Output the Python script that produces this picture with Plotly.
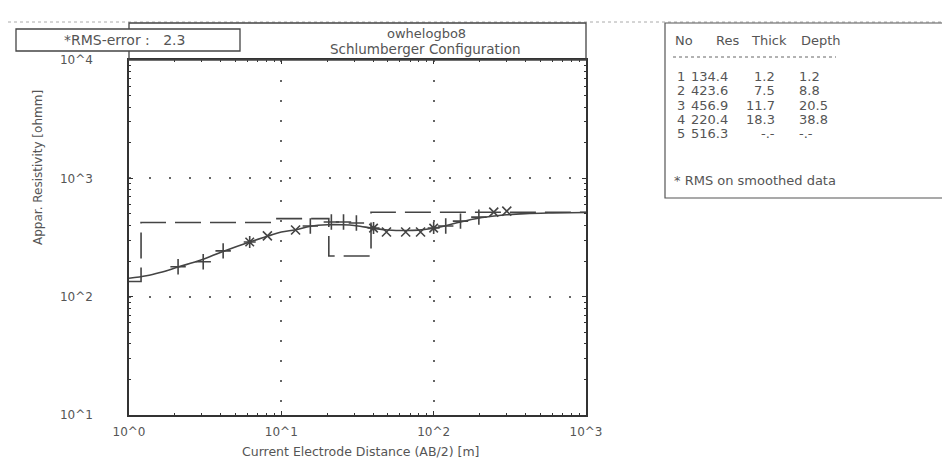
import plotly.graph_objects as go

# ---------------- data ----------------
# measured apparent resistivity (AB/2 [m], rho_a [ohm m]) by marker type
PLUS_X = [2.1, 3.07, 4.15, 15.5, 21.3, 25.6, 31.1, 120, 150, 198]
PLUS_Y = [179, 197, 244, 395, 427, 427, 419, 395, 435, 470]
CROSS_X = [8.1, 12.4, 49, 65.5, 82, 248, 302]
CROSS_Y = [326, 366, 352, 352, 352, 518, 528]
STAR_X = [6.2, 40.3, 100]
STAR_Y = [290, 380, 380]

# fitted (calculated) curve
CURVE_X = [1.0, 1.3, 1.6, 2.1, 3.0, 4.1, 6.2, 8.2, 10, 12.4, 15.5, 20, 25, 31, 40,
           50, 65, 80, 100, 120, 150, 200, 250, 300, 400, 600, 1000]
CURVE_Y = [143, 150, 160, 178, 205, 240, 290, 325, 352, 368, 393, 405, 405, 398, 378,
           366, 362, 365, 378, 398, 428, 462, 480, 492, 503, 510, 515]

# layer model (table)
LAYER_NO = [1, 2, 3, 4, 5]
LAYER_RES = [134.4, 423.6, 456.9, 220.4, 516.3]
LAYER_THICK = ["1.2", "7.5", "11.7", "18.3", "-.-"]
LAYER_DEPTH_TXT = ["1.2", "8.8", "20.5", "38.8", "-.-"]
LAYER_DEPTH = [1.2, 8.8, 20.5, 38.8]

X_TICKS = [1, 10, 100, 1000]
X_TICK_LABELS = ["10^0", "10^1", "10^2", "10^3"]
Y_TICKS = [10, 100, 1000, 10000]
Y_TICK_LABELS = ["10^1", "10^2", "10^3", "10^4"]

SITE = "owhelogbo8"
CONFIG = "Schlumberger Configuration"
RMS_ERROR = "2.3"

# --------------- build model step line from table ---------------
X_MIN, X_MAX = 1.0, 1000.0
mx, my = [], []
left = X_MIN
for i, r in enumerate(LAYER_RES):
    right = LAYER_DEPTH[i] if i < len(LAYER_DEPTH) else X_MAX
    mx += [left, right]
    my += [r, r]
    left = right

W, H = 950, 460
PL, PR, PT, PB = 121, 578, 52, 407
GRAY = "#555555"
LINE = "#444444"
FONT = "DejaVu Sans, Verdana, sans-serif"


def px(x):
    return x / W


def py(y):
    return 1 - y / H


fig = go.Figure()
fig.add_trace(go.Scatter(x=mx, y=my, mode="lines",
                         line=dict(color=LINE, width=1.6, dash="26px,9px"),
                         hoverinfo="skip", showlegend=False))
fig.add_trace(go.Scatter(x=CURVE_X, y=CURVE_Y, mode="lines",
                         line=dict(color=LINE, width=1.6, shape="spline"),
                         showlegend=False))
fig.add_trace(go.Scatter(x=PLUS_X, y=PLUS_Y, mode="markers",
                         marker=dict(symbol="cross-thin", size=11, line=dict(color=LINE, width=1.6)),
                         showlegend=False))
fig.add_trace(go.Scatter(x=CROSS_X, y=CROSS_Y, mode="markers",
                         marker=dict(symbol="x-thin", size=9, line=dict(color=LINE, width=1.6)),
                         showlegend=False))
fig.add_trace(go.Scatter(x=STAR_X, y=STAR_Y, mode="markers",
                         marker=dict(symbol="asterisk", size=10, line=dict(color=LINE, width=1.6)),
                         showlegend=False))

axis_common = dict(
    type="log", showline=True, linecolor="#333333", linewidth=1.5, mirror="allticks",
    showgrid=True, gridcolor="#666666", gridwidth=1.5, griddash="2px,18px",
    ticks="inside", ticklen=4, tickcolor="#333333",
    tickfont=dict(family=FONT, size=12, color=GRAY),
    zeroline=False, automargin=False,
)

fig.update_layout(
    width=W, height=H,
    margin=dict(l=0, r=0, t=0, b=0),
    paper_bgcolor="white", plot_bgcolor="white",
    font=dict(family=FONT, color=GRAY),
    xaxis=dict(**axis_common, domain=[px(PL), px(PR)], range=[0, 3],
               tickvals=X_TICKS, ticktext=X_TICK_LABELS, ticklabelstandoff=5,
               minor=dict(ticks="inside", ticklen=2, tickcolor="#333333",
                          tickvals=[v * d for d in [1, 10, 100] for v in range(2, 10)])),
    yaxis=dict(**axis_common, domain=[py(PB), py(PT)], range=[1, 4],
               tickvals=Y_TICKS, ticktext=Y_TICK_LABELS, ticklabelstandoff=32,
               minor=dict(ticks="inside", ticklen=2, tickcolor="#333333",
                          tickvals=[v * d for d in [10, 100, 1000] for v in range(2, 10)])),
)

shapes = []
# faint scan border at top
shapes.append(dict(type="line", xref="paper", yref="paper", x0=0, x1=1, y0=py(14), y1=py(14),
                   line=dict(color="#aaaaaa", width=1, dash="dot")))
# header box
shapes.append(dict(type="rect", xref="paper", yref="paper", x0=px(PL), x1=px(PR), y0=py(PT), y1=py(15),
                   line=dict(color="#444444", width=1.3), fillcolor="rgba(0,0,0,0)"))
# RMS box
shapes.append(dict(type="rect", xref="paper", yref="paper", x0=px(8), x1=px(232), y0=py(43), y1=py(21),
                   line=dict(color="#444444", width=1.3), fillcolor="white", layer="above"))
# table box
shapes.append(dict(type="rect", xref="paper", yref="paper", x0=px(657), x1=px(942), y0=py(190), y1=py(15),
                   line=dict(color="#555555", width=1.2), fillcolor="rgba(0,0,0,0)"))
# dashed rule under table header
shapes.append(dict(type="line", xref="paper", yref="paper", x0=px(665), x1=px(828), y0=py(49), y1=py(49),
                   line=dict(color="#666666", width=1, dash="dot")))
fig.update_layout(shapes=shapes)

ann = []


def txt(x, y, s, size=12, xanchor="left", angle=0):
    ann.append(dict(x=px(x), y=py(y), xref="paper", yref="paper", text=s, showarrow=False,
                    xanchor=xanchor, yanchor="middle", textangle=angle, borderpad=0,
                    font=dict(family=FONT, size=size, color=GRAY)))


txt(116, 32, "*RMS-error :   " + RMS_ERROR, size=14, xanchor="center")
txt(418, 25, SITE, size=13, xanchor="center")
txt(417, 41, CONFIG, size=13.5, xanchor="center")
txt(30, 160, "Appar. Resistivity [ohmm]", size=12, xanchor="center", angle=-90)
txt(352, 443, "Current Electrode Distance (AB/2) [m]", size=12.5, xanchor="center")

# table
TS = 13
txt(666, 32, "No", size=TS)
txt(707, 32, "Res", size=TS)
txt(742, 32, "Thick", size=TS)
txt(792, 32, "Depth", size=TS)
ROW_Y0, ROW_DY = 68, 14.5
for i in range(len(LAYER_NO)):
    yy = ROW_Y0 + i * ROW_DY
    txt(668, yy, str(LAYER_NO[i]), size=TS)
    txt(682, yy, f"{LAYER_RES[i]:.1f}", size=TS)
    txt(768, yy, LAYER_THICK[i], size=TS, xanchor="right")
    txt(790, yy, LAYER_DEPTH_TXT[i], size=TS)
txt(665, 172, "* RMS on smoothed data", size=TS)

fig.update_layout(annotations=ann)
fig.write_html("out.html")
